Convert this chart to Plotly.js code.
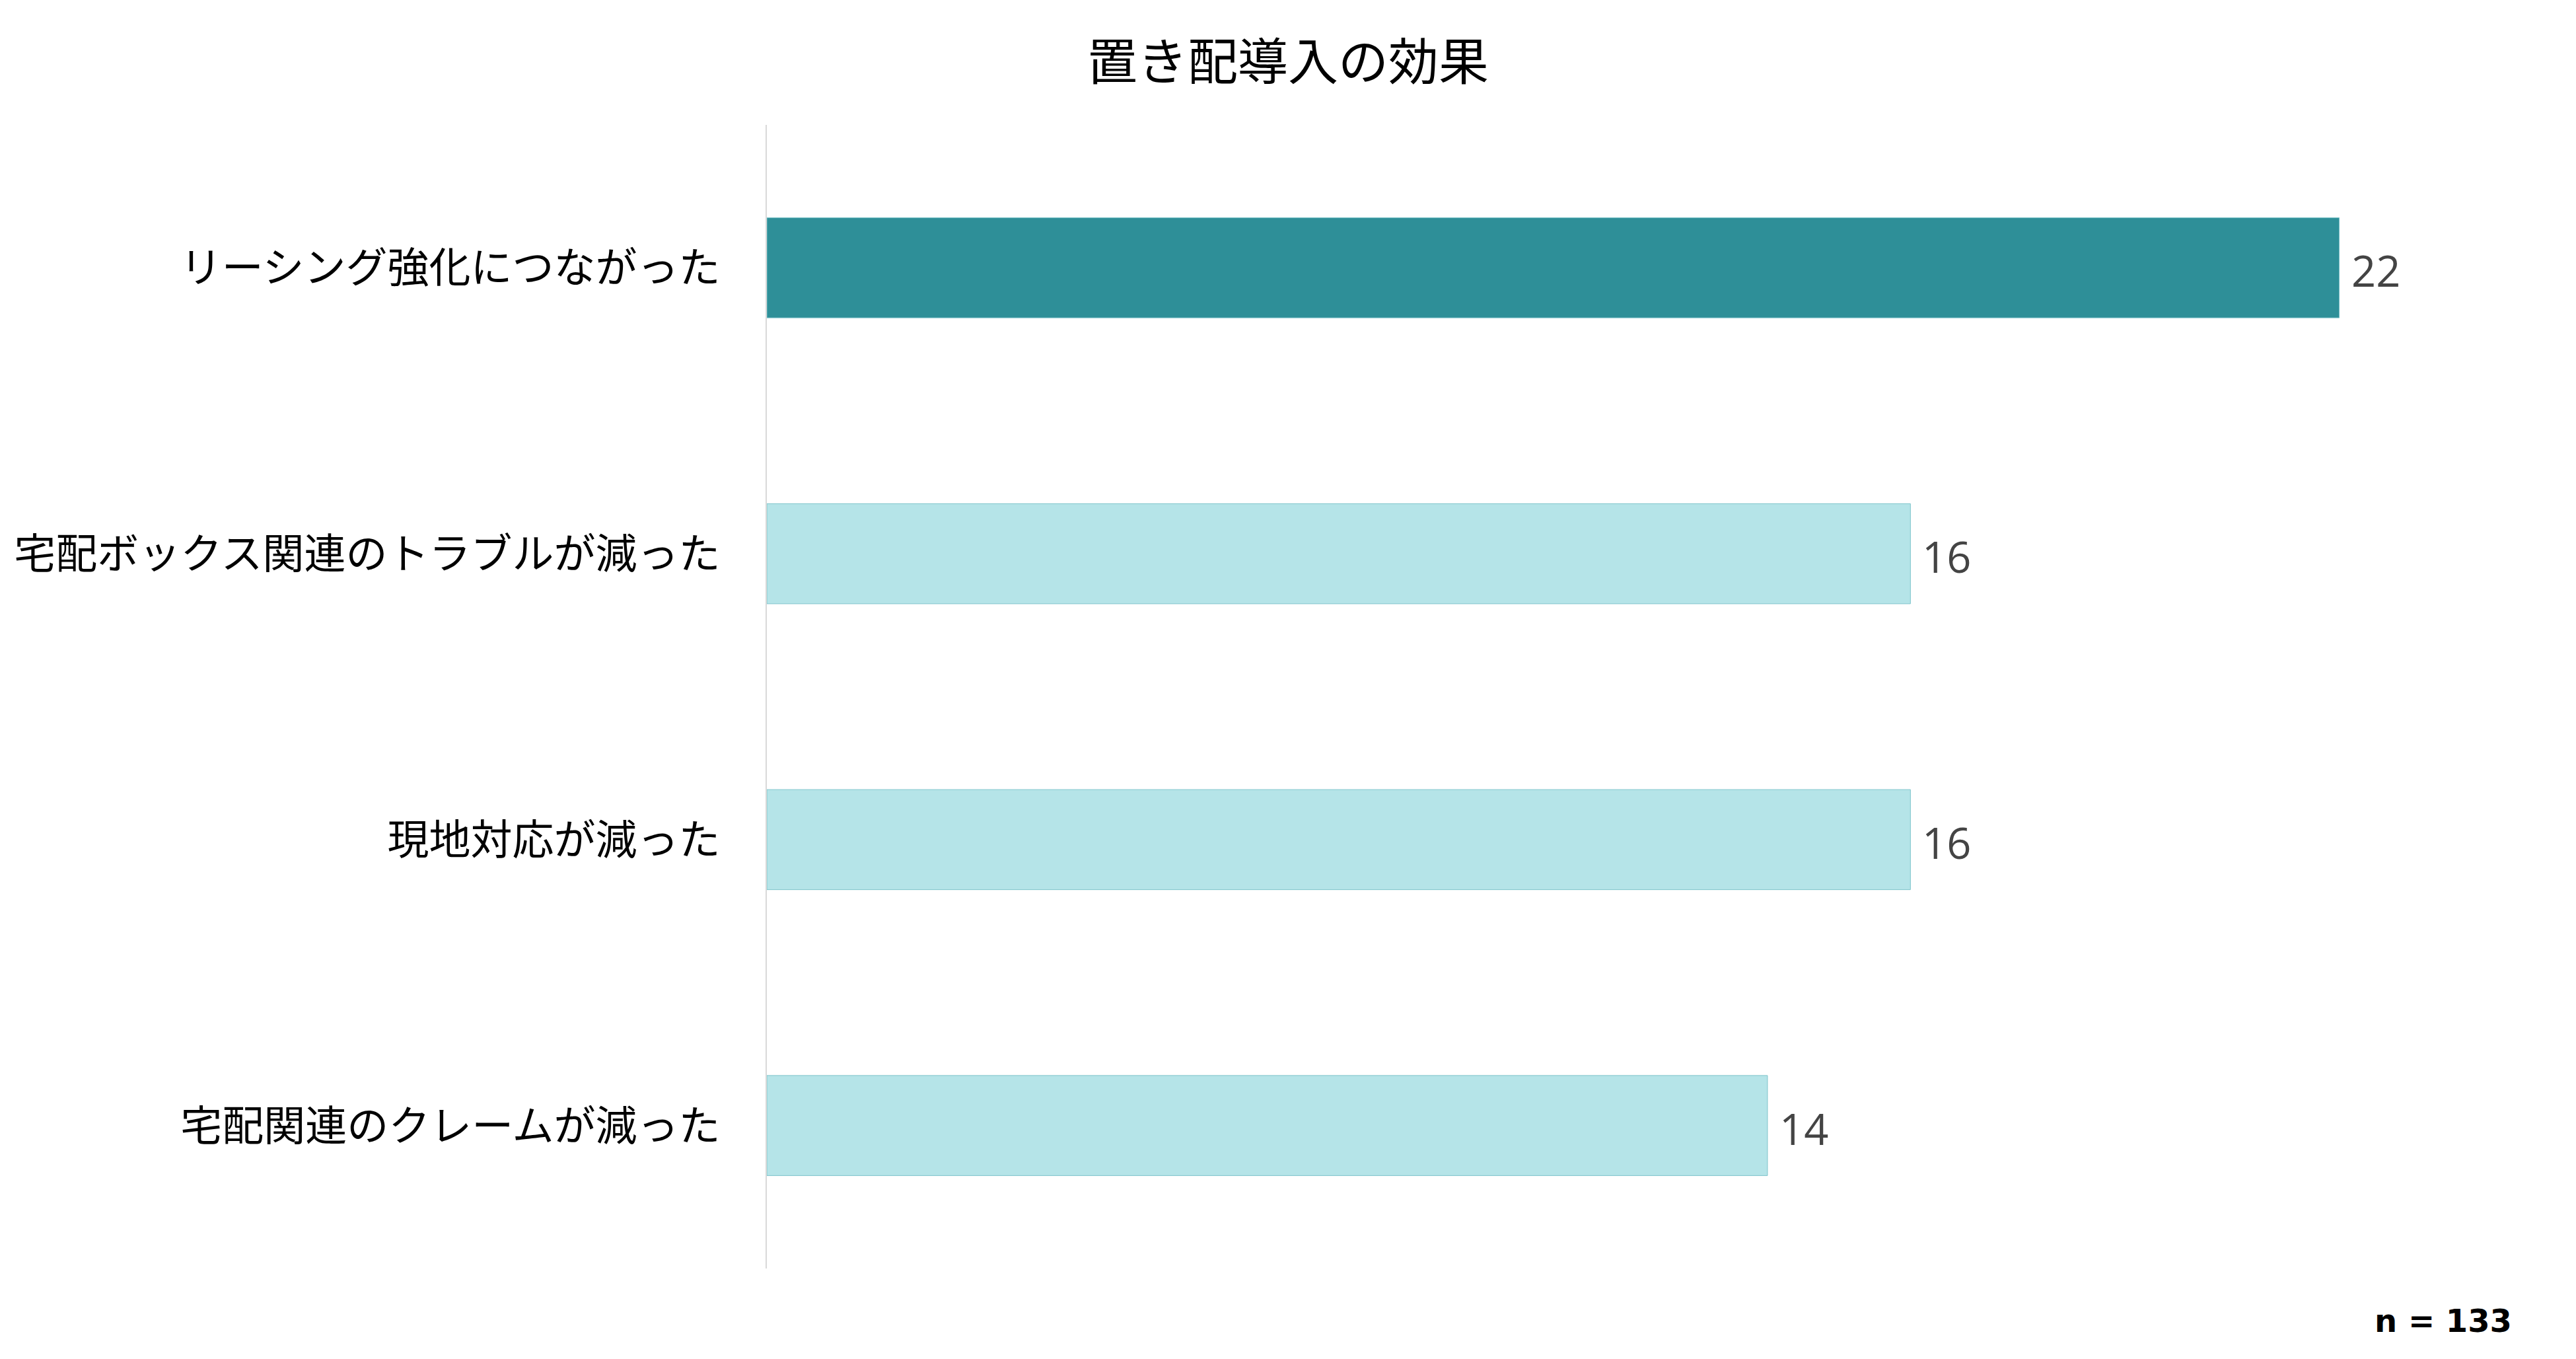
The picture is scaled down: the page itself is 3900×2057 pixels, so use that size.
<!DOCTYPE html>
<html>
<head>
<meta charset="utf-8">
<script src="https://cdn.plot.ly/plotly-3.0.1.min.js"></script>
<style>html,body{margin:0;padding:0;background:#fff;}#chart{width:3900px;height:2057px;}</style>
</head>
<body>
<div id="chart"></div>
<script>
const categories = ["リーシング強化につながった", "宅配ボックス関連のトラブルが減った", "現地対応が減った", "宅配関連のクレームが減った"];
const values = [22, 16, 16, 14];
const barColors = ["#2E8F98", "#B5E4E8", "#B5E4E8", "#B5E4E8"];
const chartTitle = "置き配導入の効果";
const sampleNote = "n = 133";

const jpFont = "'Noto Sans CJK JP', 'Noto Sans', sans-serif";

const trace = {
  type: "bar",
  orientation: "h",
  y: categories,
  x: values,
  width: 0.35,
  marker: { color: barColors, line: { color: "#7CC3CA", width: 1 } },
  hoverinfo: "none"
};

const valueLabels = categories.map((c, i) => ({
  text: String(values[i]),
  x: values[i], y: c,
  xref: "x", yref: "y",
  xanchor: "left", yanchor: "middle",
  xshift: 16, yshift: -4,
  showarrow: false,
  font: { family: "'Open Sans', 'DejaVu Sans', sans-serif", size: 65, color: "#444444" }
}));

const layout = {
  width: 3900,
  height: 2057,
  paper_bgcolor: "#ffffff",
  plot_bgcolor: "#ffffff",
  margin: { l: 1161, r: 142, t: 189, b: 137 },
  showlegend: false,
  title: {
    text: chartTitle,
    font: { family: jpFont, size: 76, color: "#000000" },
    x: 0.5, xanchor: "center",
    y: 1 - 94 / 2057, yref: "container", yanchor: "middle"
  },
  xaxis: {
    range: [0, 24],
    visible: false,
    showgrid: false,
    zeroline: false
  },
  yaxis: {
    autorange: "reversed",
    showgrid: false,
    zeroline: false,
    showline: true,
    linecolor: "#D9D9D9",
    linewidth: 2,
    ticks: "",
    ticklabelstandoff: 56,
    tickfont: { family: jpFont, size: 63, color: "#000000" }
  },
  annotations: valueLabels.concat([{
    text: "<b>" + sampleNote + "</b>",
    xref: "paper", yref: "paper",
    x: (3805 - 1161) / 2597, y: (1920 - 1999) / 1731,
    xanchor: "right", yanchor: "middle",
    showarrow: false,
    font: { family: "'DejaVu Sans', Verdana, sans-serif", size: 48, color: "#000000" }
  }])
};

Plotly.newPlot("chart", [trace], layout, { staticPlot: true, displayModeBar: false });
</script>
</body>
</html>
